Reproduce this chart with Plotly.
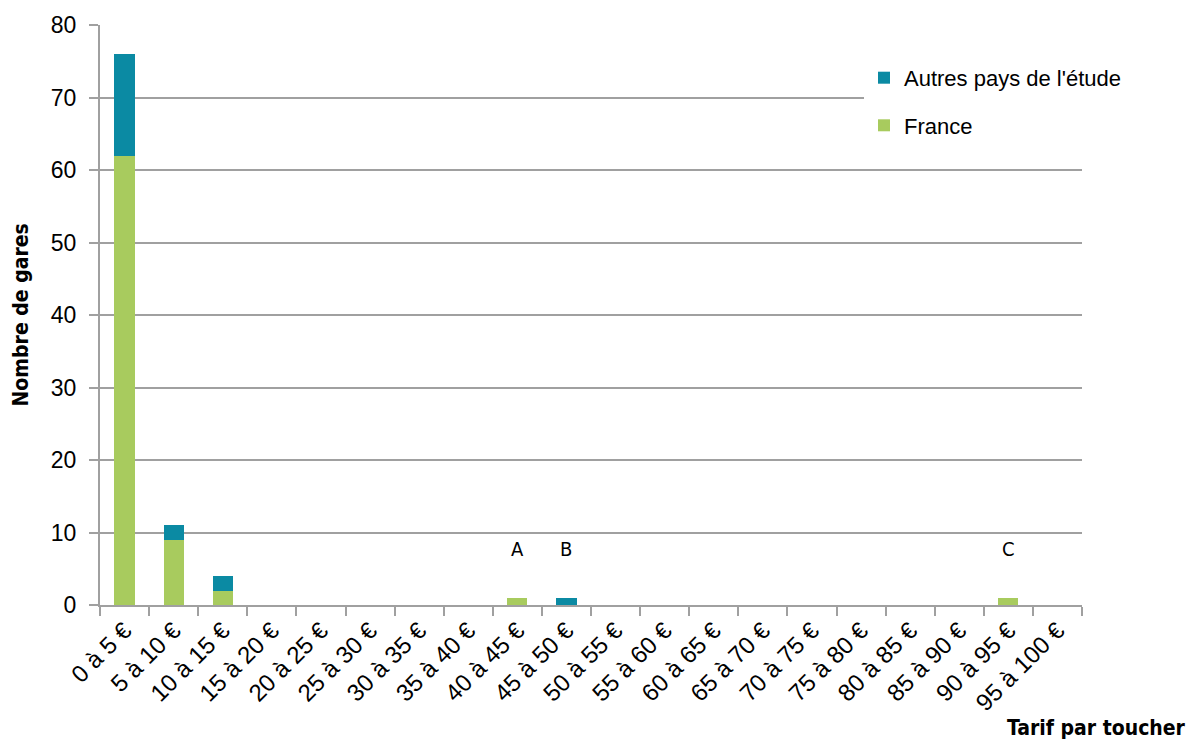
import plotly.graph_objects as go

categories = ["0 à 5 €", "5 à 10 €", "10 à 15 €", "15 à 20 €", "20 à 25 €", "25 à 30 €",
              "30 à 35 €", "35 à 40 €", "40 à 45 €", "45 à 50 €", "50 à 55 €", "55 à 60 €",
              "60 à 65 €", "65 à 70 €", "70 à 75 €", "75 à 80 €", "80 à 85 €", "85 à 90 €",
              "90 à 95 €", "95 à 100 €"]
france = [62, 9, 2, 0, 0, 0, 0, 0, 1, 0, 0, 0, 0, 0, 0, 0, 0, 0, 1, 0]
autres = [14, 2, 2, 0, 0, 0, 0, 0, 0, 1, 0, 0, 0, 0, 0, 0, 0, 0, 0, 0]
notes = [("40 à 45 €", "A"), ("45 à 50 €", "B"), ("90 à 95 €", "C")]
note_y = 7.7

GREEN = "#A8CB5E"
TEAL = "#0B8AA3"
GRID = "#A0A0A0"
FONT = "Liberation Sans"
COND = "DejaVu Sans Condensed, Liberation Sans, sans-serif"

fig = go.Figure()
fig.add_bar(x=categories, y=france, name="France", marker=dict(color=GREEN, line=dict(width=0)),
            legendgroup="fr", legendrank=2)
fig.add_bar(x=categories, y=autres, name="Autres pays de l'étude",
            marker=dict(color=TEAL, line=dict(width=0)), legendgroup="au", legendrank=1)

for cat, lab in notes:
    fig.add_annotation(x=cat, y=note_y, text=lab, showarrow=False,
                       font=dict(family=COND, size=20, color="#000"))

fig.add_annotation(xref="paper", yref="paper", x=1.108, y=-0.212, xanchor="right", yanchor="middle",
                   text="<b>Tarif par toucher</b>", showarrow=False,
                   font=dict(family=COND, size=21, color="#000"))
fig.add_annotation(xref="paper", yref="paper", x=-0.08, y=0.5, xanchor="center", yanchor="middle",
                   text="<b>Nombre de gares</b>", textangle=-90, showarrow=False,
                   font=dict(family=COND, size=21, color="#000"))

fig.update_layout(
    width=1194, height=742,
    margin=dict(l=100, r=112, t=25, b=137),
    paper_bgcolor="white", plot_bgcolor="white",
    barmode="stack", bargap=0.59,
    font=dict(family=FONT, size=22, color="#000"),
    showlegend=True,
    legend=dict(x=0.778, y=0.945, xanchor="left", yanchor="top", bgcolor="white",
                traceorder="grouped", tracegroupgap=16,
                font=dict(family=FONT, size=22, color="#000"), itemwidth=30),
    xaxis=dict(type="category", showline=True, linecolor=GRID, linewidth=2,
               ticks="outside", tickson="boundaries", ticklen=9, tickcolor=GRID, tickwidth=2,
               tickangle=-45, showgrid=False, tickfont=dict(family=FONT, size=24)),
    yaxis=dict(range=[0, 80], dtick=10, showline=True, linecolor=GRID, linewidth=2,
               ticks="outside", ticklen=9, tickcolor=GRID, tickwidth=2, ticklabelstandoff=8,
               showgrid=True, gridcolor=GRID, gridwidth=1.5, zeroline=False,
               tickfont=dict(family=FONT, size=23)),
)

fig.write_html("out.html")
